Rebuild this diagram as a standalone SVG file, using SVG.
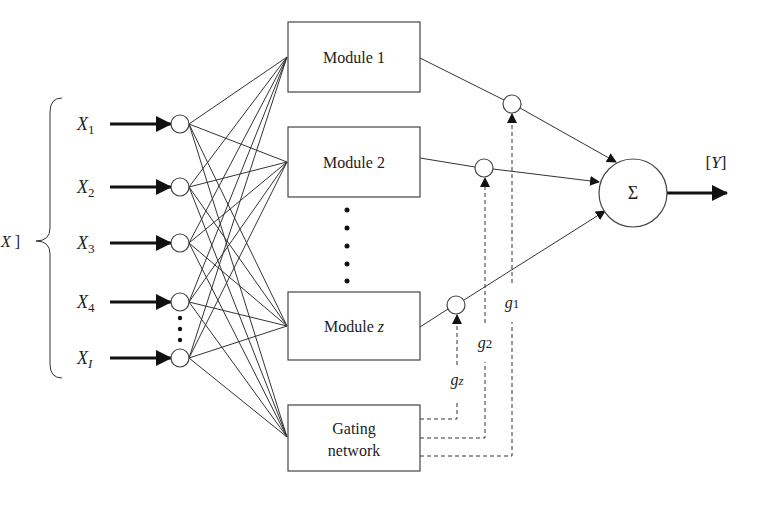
<svg xmlns="http://www.w3.org/2000/svg" width="768" height="519" viewBox="0 0 768 519">
<defs>
<marker id="a" markerWidth="10" markerHeight="10" refX="9" refY="5" orient="auto" markerUnits="userSpaceOnUse"><path d="M0,0 L10,5 L0,10 z" fill="#111"/></marker>
<marker id="b" markerWidth="16" markerHeight="16" refX="15" refY="8" orient="auto" markerUnits="userSpaceOnUse"><path d="M0,0 L16,8 L0,16 z" fill="#111"/></marker>
</defs>
<style>
text{font-family:"Liberation Serif",serif;fill:#222}
.i{font-style:italic;font-size:18px}
.s{font-size:13px}
.box{fill:#fff;stroke:#444;stroke-width:1.2}
.c{fill:#fff;stroke:#444;stroke-width:1.2}
.l{stroke:#333;stroke-width:1;fill:none}
.d{stroke:#333;stroke-width:1;fill:none;stroke-dasharray:4,3}
.th{stroke:#111;stroke-width:3;fill:none}
</style>
<rect width="768" height="519" fill="#fff"/>
<g id="connectors">
<g class="l">
<path d="M189,124L287,57M189,124L287,162M189,124L287,326M189,124L287,437"/>
<path d="M189,187L287,57M189,187L287,162M189,187L287,326M189,187L287,437"/>
<path d="M189,243L287,57M189,243L287,162M189,243L287,326M189,243L287,437"/>
<path d="M189,302L287,57M189,302L287,162M189,302L287,326M189,302L287,437"/>
<path d="M189,358L287,57M189,358L287,162M189,358L287,326M189,358L287,437"/>
<path d="M420,58L504,100M420,158L475,167M420,327L448,309"/>
<path d="M520,108L616,162" marker-end="url(#a)"/>
<path d="M493,169L599,182" marker-end="url(#a)"/>
<path d="M464,300L605,211" marker-end="url(#a)"/>
</g>
<g class="th">
<path d="M110,124L171,124" marker-end="url(#b)"/>
<path d="M110,187L171,187" marker-end="url(#b)"/>
<path d="M110,243L171,243" marker-end="url(#b)"/>
<path d="M110,302L171,302" marker-end="url(#b)"/>
<path d="M110,358L171,358" marker-end="url(#b)"/>
<path d="M667,193L727,193" marker-end="url(#b)"/>
</g>
<g class="d">
<path d="M420,419H457V400"/><path d="M457,365V315" marker-end="url(#a)"/>
<path d="M420,438H485V362"/><path d="M485,323V178" marker-end="url(#a)"/>
<path d="M420,456H512V322"/><path d="M512,283V114" marker-end="url(#a)"/>
</g>
</g>
<g id="brace"><path class="l" d="M62,98 Q50,98 50,112 V228 Q50,241 36,241 Q50,241 50,254 V364 Q50,378 62,378"/><text x="1" y="247" font-size="16"><tspan font-style="italic">X</tspan> ]</text></g>
<g id="inputs">
<circle class="c" cx="180" cy="124" r="9"/><circle class="c" cx="180" cy="187" r="9"/><circle class="c" cx="180" cy="243" r="9"/><circle class="c" cx="180" cy="302" r="9"/><circle class="c" cx="180" cy="358" r="9"/>
<circle cx="180" cy="318" r="2.2" fill="#111"/><circle cx="180" cy="329" r="2.2" fill="#111"/><circle cx="180" cy="340" r="2.2" fill="#111"/>
<text x="77" y="130" class="i">X<tspan class="s" font-style="normal" dy="4">1</tspan></text>
<text x="77" y="193" class="i">X<tspan class="s" font-style="normal" dy="4">2</tspan></text>
<text x="77" y="249" class="i">X<tspan class="s" font-style="normal" dy="4">3</tspan></text>
<text x="77" y="308" class="i">X<tspan class="s" font-style="normal" dy="4">4</tspan></text>
<text x="77" y="364" class="i">X<tspan class="s" dy="4">I</tspan></text>
</g>
<g id="module1"><rect class="box" x="288" y="22" width="132" height="70"/><text x="354" y="63" font-size="16" text-anchor="middle">Module 1</text></g>
<g id="module2"><rect class="box" x="288" y="127" width="132" height="70"/><text x="354" y="168" font-size="16" text-anchor="middle">Module 2</text></g>
<g id="dots"><circle cx="347" cy="210" r="2.5" fill="#111"/><circle cx="347" cy="228" r="2.5" fill="#111"/><circle cx="347" cy="246" r="2.5" fill="#111"/><circle cx="347" cy="264" r="2.5" fill="#111"/><circle cx="347" cy="281" r="2.5" fill="#111"/></g>
<g id="modulez"><rect class="box" x="288" y="292" width="132" height="68"/><text x="354" y="332" font-size="16" text-anchor="middle">Module <tspan font-style="italic">z</tspan></text></g>
<g id="gating"><rect class="box" x="288" y="405" width="132" height="66"/><text x="354" y="434" font-size="16" text-anchor="middle">Gating</text><text x="354" y="456" font-size="16" text-anchor="middle">network</text></g>
<g id="products"><circle class="c" cx="512" cy="104" r="9"/><circle class="c" cx="484" cy="168" r="9"/><circle class="c" cx="456" cy="305" r="9"/></g>
<g id="sum"><circle class="c" cx="633" cy="193" r="34"/><text x="633" y="199" font-size="18" text-anchor="middle">Σ</text></g>
<g id="labels">
<text x="716" y="168" font-size="17" text-anchor="middle">[<tspan font-style="italic">Y</tspan>]</text>
<text x="512" y="308" font-style="italic" font-size="16" text-anchor="middle">g<tspan font-style="normal" font-size="13">1</tspan></text>
<text x="485" y="348" font-style="italic" font-size="16" text-anchor="middle">g<tspan font-style="normal" font-size="13">2</tspan></text>
<text x="457" y="385" font-style="italic" font-size="16" text-anchor="middle">g<tspan font-size="13">z</tspan></text>
</g>
</svg>
